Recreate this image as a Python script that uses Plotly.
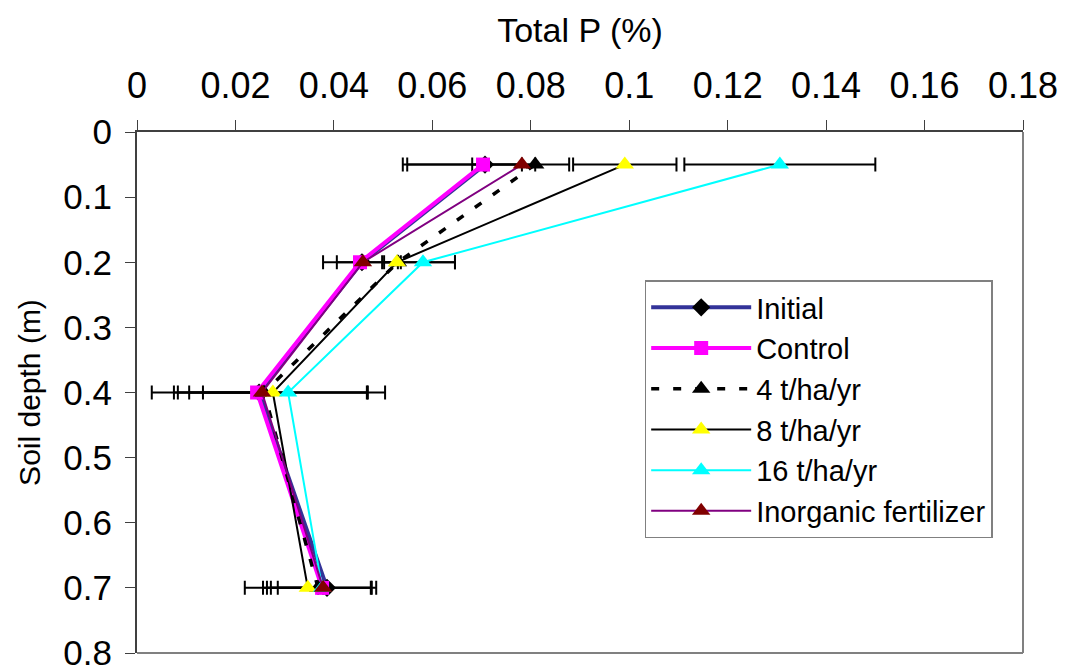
import plotly.graph_objects as go

# Sampling depths (m)
depth = [0.05, 0.2, 0.4, 0.7]

# Total P (%) by treatment
initial = [0.0707, 0.0457, 0.0248, 0.0386]
control = [0.0703, 0.0453, 0.0244, 0.0376]
t4 = [0.0809, 0.0530, 0.0258, 0.0368]
t8 = [0.0991, 0.0528, 0.0276, 0.0347]
t16 = [0.1306, 0.0581, 0.0307, 0.0376]
inorganic = [0.0782, 0.0459, 0.0254, 0.0378]

# Error bars (plus / minus), Total P (%)
initial_err_plus = [0.0171, 0.0079, 0.0219, 0.0100]
initial_err_minus = [0.0167, 0.0079, 0.0218, 0.0100]
t4_err_plus = [0.0, 0.0, 0.0, 0.0]
t4_err_minus = [0.0260, 0.0032, 0.0183, 0.0112]
t8_err_plus = [0.0105, 0.0118, 0.0193, 0.0128]
t8_err_minus = [0.0105, 0.0122, 0.0193, 0.0128]
t16_err_plus = [0.0194, 0.0065, 0.0197, 0.0101]
t16_err_minus = [0.0194, 0.0079, 0.0201, 0.0104]
inorganic_err_plus = [0.0, 0.0, 0.0, 0.0]
inorganic_err_minus = [0.0101, 0.0, 0.0120, 0.0114]

# Axis ticks
x_ticks = [0, 0.02, 0.04, 0.06, 0.08, 0.1, 0.12, 0.14, 0.16, 0.18]
x_tick_labels = ["0", "0.02", "0.04", "0.06", "0.08", "0.1", "0.12", "0.14", "0.16", "0.18"]
y_ticks = [0, 0.1, 0.2, 0.3, 0.4, 0.5, 0.6, 0.7, 0.8]
y_tick_labels = ["0", "0.1", "0.2", "0.3", "0.4", "0.5", "0.6", "0.7", "0.8"]

FONT = "Liberation Sans, Arial, sans-serif"

fig = go.Figure()

# Error bars first so the markers sit on top of them
err_sets = [
    (initial, initial_err_plus, initial_err_minus),
    (t4, t4_err_plus, t4_err_minus),
    (t8, t8_err_plus, t8_err_minus),
    (t16, t16_err_plus, t16_err_minus),
    (inorganic, inorganic_err_plus, inorganic_err_minus),
]
for vals, ep, em in err_sets:
    fig.add_trace(go.Scatter(
        x=vals, y=depth, mode="markers",
        marker=dict(size=1, color="rgba(0,0,0,0)"),
        error_x=dict(type="data", symmetric=False, array=ep, arrayminus=em,
                     color="black", thickness=2, width=7),
        showlegend=False, hoverinfo="skip",
    ))

series = [
    ("Initial", initial, dict(color="#333399", width=4), dict(symbol="diamond", size=14, color="black")),
    ("Control", control, dict(color="#FF00FF", width=4), dict(symbol="square", size=14, color="#FF00FF")),
    ("4 t/ha/yr", t4, dict(color="black", width=3.5, dash="8px,14px"), dict(symbol="triangle-up", size=16, color="black")),
    ("8 t/ha/yr", t8, dict(color="black", width=2), dict(symbol="triangle-up", size=16, color="#FFFF00")),
    ("16 t/ha/yr", t16, dict(color="#00FFFF", width=2), dict(symbol="triangle-up", size=16, color="#00FFFF")),
    ("Inorganic fertilizer", inorganic, dict(color="#800080", width=2), dict(symbol="triangle-up", size=16, color="#800000")),
]
for name, vals, line, marker in series:
    fig.add_trace(go.Scatter(
        x=vals, y=depth, mode="lines+markers", name=name,
        line=line, marker=dict(line=dict(width=0), **marker),
    ))

fig.update_layout(
    width=1065, height=668,
    margin=dict(l=137, r=42, t=132, b=15),
    paper_bgcolor="white", plot_bgcolor="white",
    font=dict(family=FONT, color="black"),
    showlegend=True,
    legend=dict(
        x=0.573, y=0.715, xanchor="left", yanchor="top",
        bgcolor="white", bordercolor="#808080", borderwidth=1.5,
        font=dict(family=FONT, size=29, color="black"),
        itemwidth=100, tracegroupgap=0,
    ),
    xaxis=dict(
        side="top", range=[0, 0.18], tickvals=x_ticks, ticktext=x_tick_labels,
        ticks="outside", ticklen=10, tickcolor="#404040", tickwidth=1,
        showline=True, linecolor="#404040", linewidth=2, mirror=False,
        showgrid=False, zeroline=False, automargin=False,
        tickfont=dict(size=36, family=FONT), ticklabelstandoff=8,
        ticklabeloverflow="allow",
        title=dict(text="Total P (%)", font=dict(size=34, family=FONT), standoff=12),
    ),
    yaxis=dict(
        range=[0.8, 0], tickvals=y_ticks, ticktext=y_tick_labels,
        ticks="outside", ticklen=10, tickcolor="#404040", tickwidth=1,
        showline=True, linecolor="#404040", linewidth=2,
        showgrid=False, zeroline=False, automargin=False,
        tickfont=dict(size=35, family=FONT), ticklabelstandoff=6,
        ticklabeloverflow="allow",
        title=dict(text="Soil depth (m)", font=dict(size=30, family=FONT), standoff=14),
    ),
    shapes=[
        # plot-area frame (right and bottom edges)
        dict(type="line", xref="paper", yref="paper", x0=1, x1=1, y0=0, y1=1,
             line=dict(color="#808080", width=2)),
        dict(type="line", xref="paper", yref="paper", x0=0, x1=1, y0=0, y1=0,
             line=dict(color="#808080", width=2)),
    ],
)

fig.write_html("out.html")
